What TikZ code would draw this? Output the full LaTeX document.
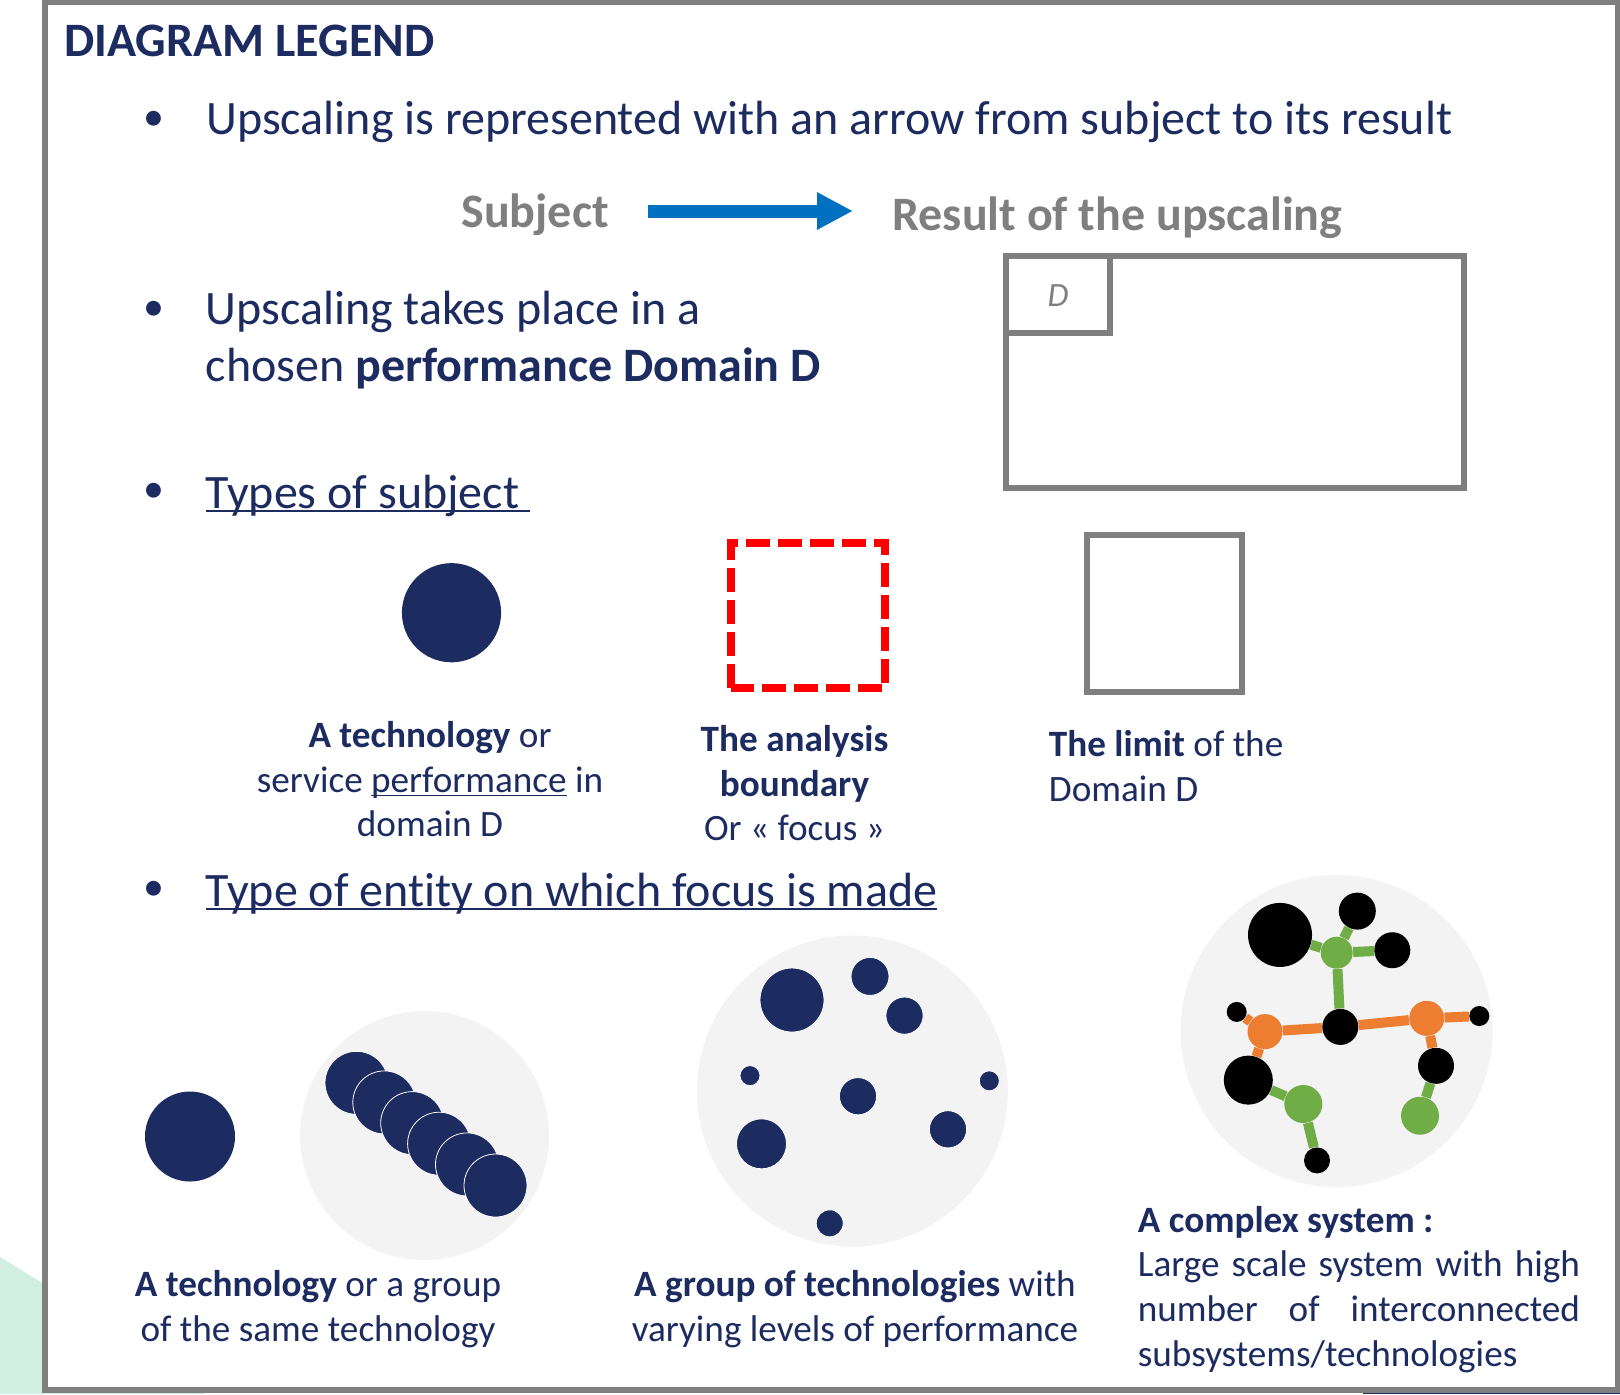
\documentclass[tikz,border=0pt]{standalone}
\usepackage{fontspec}
\setmainfont[Ligatures=NoCommon]{Carlito}
\usetikzlibrary{arrows.meta}
\definecolor{navy}{HTML}{1C2B60}
\definecolor{framegrey}{HTML}{7F7F7F}
\definecolor{lightdisc}{HTML}{F3F3F3}
\definecolor{arrowblue}{HTML}{0070C0}
\definecolor{molgreen}{HTML}{70AD47}
\definecolor{molorange}{HTML}{ED7D31}
\definecolor{mint}{HTML}{D0EEE2}
\newcommand\ult[1]{\setbox0=\hbox{#1}\rlap{\rule[-1.8pt]{\wd0}{0.6pt}}\box0\relax}
\tikzset{
  txt/.style={inner sep=0pt,text=navy,font=\fontsize{24}{27}\selectfont},
  small/.style={inner sep=0pt,text=navy,align=center,font=\fontsize{18.6}{22.3}\selectfont},
  smallleft/.style={small,align=left},
  head/.style={inner sep=0pt,text=framegrey,font=\fontsize{24}{27}\bfseries\selectfont},
  bullet/.style={inner sep=0pt,text=navy,font=\fontsize{21}{27}\selectfont},
  greyline/.style={draw=framegrey,line width=3pt},
  disc/.style={circle,inner sep=0pt,fill=lightdisc},
  tech/.style={circle,inner sep=0pt,fill=navy,draw=white,line width=0.4pt},
  blk/.style={circle,inner sep=0pt,fill=black},
  grn/.style={circle,inner sep=0pt,fill=molgreen},
  org/.style={circle,inner sep=0pt,fill=molorange},
  gedge/.style={draw=molgreen,line width=5pt},
  oedge/.style={draw=molorange,line width=5pt},
}
\begin{document}
\begin{tikzpicture}[x=0.5pt,y=-0.5pt]
\useasboundingbox (0,0) rectangle (1620,1394);
\fill[white] (0,0) rectangle (1620,1394);
% backdrop scraps
\fill[mint] (0,1257) -- (44,1284) -- (44,1394) -- (0,1394) -- cycle;
\fill[mint] (44,1392) rectangle (204,1394);
\fill[navy] (1363,1392.5) rectangle (1620,1394);
% frame
\draw[greyline] (45,2) rectangle (1617.5,1390);
% heading
\node[anchor=base west,inner sep=0pt,text=navy,font=\fontsize{24}{27}\bfseries\selectfont] (title) at (64,56) {DIAGRAM LEGEND};
% bullets
\node[bullet] (b1) at (154,121) {•};
\node[bullet] (b2) at (154,311) {•};
\node[bullet] (b3) at (154,493) {•};
\node[bullet] (b4) at (154,891) {•};
\node[txt,anchor=base west] (t1) at (206,134.5) {Upscaling is represented with an arrow from subject to its result};
\node[head,anchor=base west] (subject) at (461,227) {Subject};
\node[head,anchor=base west] (result) at (892,230) {Result of the upscaling};
\coordinate (arrS) at (648,211);
\coordinate (arrE) at (853,211);
\draw[draw=arrowblue,line width=6.5pt,-{Triangle[length=18pt,width=17.5pt]}] (arrS) -- (arrE);
\node[txt,anchor=base west] (t2a) at (205.5,324.5) {Upscaling takes place in a};
\node[txt,anchor=base west] (t2b) at (205.5,381.5) {chosen \textbf{performance Domain D}};
% domain box
\draw[greyline] (1006,256) rectangle (1464,488);
\draw[greyline] (1006,256) rectangle (1110,333);
\node[inner sep=0pt,text=framegrey,font=\fontsize{17}{20}\itshape\selectfont] (dlabel) at (1058,296) {D};
\node[txt,anchor=base west] (t3) at (205.5,508) {\ult{Types of subject\ }};
% subjects
\node[circle,inner sep=0pt,fill=navy,minimum size=49.6pt] (subj1) at (451.5,612.7) {};
\draw[draw=red,line width=4pt,dash pattern=on 12pt off 4pt] (730.7,688) -- (730.7,543) -- (885.3,543) -- (885.3,688) -- cycle;
\draw[greyline] (1087,535) rectangle (1242,692);
\node[small,anchor=north] (c1) at (430,721) {\textbf{A technology} or\\service \ult{performance} in\\domain D};
\node[small,anchor=north] (c2) at (794.5,725) {\textbf{The analysis}\\\textbf{boundary}\\Or « focus »};
\node[smallleft,anchor=north west] (c3) at (1048.5,730) {\textbf{The limit} of the\\Domain D};
\node[txt,anchor=base west] (t4) at (205.5,906) {\ult{Type of entity on which focus is made}};
% entity 1
\node[circle,inner sep=0pt,fill=navy,minimum size=45pt] (e0) at (190,1136.5) {};
\node[disc,minimum size=124.5pt] (d1) at (424.6,1135.5) {};
\node[tech,minimum size=31.5pt] (s1) at (356.5,1082.8) {};
\node[tech,minimum size=31.5pt] (s2) at (384.3,1102.4) {};
\node[tech,minimum size=31.5pt] (s3) at (412.2,1123.1) {};
\node[tech,minimum size=31.5pt] (s4) at (439.1,1143.7) {};
\node[tech,minimum size=31.5pt] (s5) at (467,1164.4) {};
\node[tech,minimum size=31.5pt] (s6) at (495.5,1185.5) {};
\node[small,anchor=north] (c4) at (318,1270) {\textbf{A technology} or a group\\of the same technology};
% entity 2
\node[disc,minimum size=155.5pt] (d2) at (852.4,1091) {};
\node[tech,minimum size=32pt] (g1) at (792,1000) {};
\node[tech,minimum size=19pt] (g2) at (870,976.4) {};
\node[tech,minimum size=18.6pt] (g3) at (904.5,1015.6) {};
\node[tech,minimum size=10pt] (g4) at (750,1075.6) {};
\node[tech,minimum size=18.6pt] (g5) at (858,1096.2) {};
\node[tech,minimum size=10pt] (g6) at (989.3,1080.8) {};
\node[tech,minimum size=18.6pt] (g7) at (948,1129.3) {};
\node[tech,minimum size=25pt] (g8) at (761.5,1143.8) {};
\node[tech,minimum size=13.5pt] (g9) at (829.7,1223.3) {};
\node[small,anchor=north] (c5) at (855,1270) {\textbf{A group of technologies} with\\varying levels of performance};
% entity 3
\node[disc,minimum size=156pt] (d3) at (1336.5,1031) {};
\node[blk,minimum size=32pt] (A) at (1280,934.9) {};
\node[blk,minimum size=18.5pt] (B) at (1357.3,911.1) {};
\node[blk,minimum size=18pt] (C) at (1392.3,950.2) {};
\node[grn,minimum size=16pt] (G1) at (1336.7,952.7) {};
\node[blk,minimum size=18pt] (Dn) at (1340.3,1026.9) {};
\node[org,minimum size=17.5pt] (O1) at (1265,1031.6) {};
\node[org,minimum size=17.5pt] (O2) at (1426.7,1018.3) {};
\node[blk,minimum size=10pt] (E) at (1236.7,1011.9) {};
\node[blk,minimum size=10pt] (F) at (1479.3,1016) {};
\node[blk,minimum size=24.5pt] (H) at (1248.3,1080.1) {};
\node[blk,minimum size=18pt] (I) at (1436,1065.8) {};
\node[grn,minimum size=19pt] (G2) at (1303.3,1104) {};
\node[grn,minimum size=19pt] (G3) at (1420,1115.7) {};
\node[blk,minimum size=13pt] (J) at (1317,1160.4) {};
\draw[gedge] (A) -- (G1);
\draw[gedge] (B) -- (G1);
\draw[gedge] (C) -- (G1);
\draw[gedge] (G1) -- (Dn);
\draw[oedge] (Dn) -- (O1);
\draw[oedge] (Dn) -- (O2);
\draw[oedge] (O1) -- (E);
\draw[oedge] (O1) -- (H);
\draw[oedge] (O2) -- (F);
\draw[oedge] (O2) -- (I);
\draw[gedge] (H) -- (G2);
\draw[gedge] (G2) -- (J);
\draw[gedge] (I) -- (G3);
\node[smallleft,anchor=base west] (c6a) at (1137.5,1232) {\textbf{A complex system :}};
\node[small,anchor=base west] (c6b) at (1137.5,1276) {\makebox[221pt][s]{Large scale system with high}};
\node[small,anchor=base west] (c6c) at (1137.5,1321) {\makebox[221pt][s]{number of interconnected}};
\node[small,anchor=base west] (c6d) at (1137.5,1366) {subsystems/technologies};
\end{tikzpicture}
\end{document}
